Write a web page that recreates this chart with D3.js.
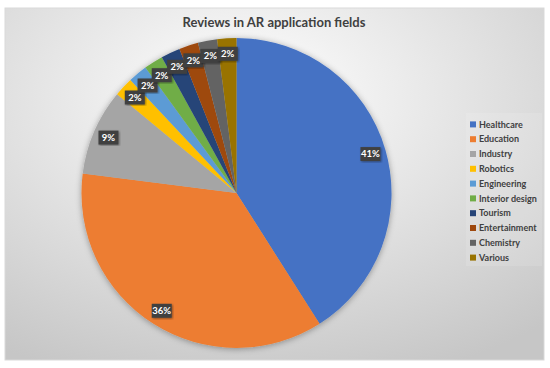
<!DOCTYPE html>
<html>
<head>
<meta charset="utf-8">
<script src="https://cdn.jsdelivr.net/npm/d3@7"></script>
<style>
  body { margin: 0; background: #fff; }
  svg { display: block; font-family: Lato, "Open Sans", "Liberation Sans", sans-serif; }
</style>
</head>
<body>
<svg id="chart" width="550" height="368"></svg>
<script>
// data
var fields = ["Healthcare", "Education", "Industry", "Robotics", "Engineering",
              "Interior design", "Tourism", "Entertainment", "Chemistry", "Various"];
var shares = [41, 36, 9, 2, 2, 2, 2, 2, 2, 2];
var colours = ["#4472C4", "#ED7D31", "#A5A5A5", "#FFC000", "#5B9BD5",
               "#70AD47", "#264478", "#9E480E", "#636363", "#997300"];

var svg = d3.select("#chart");

var defs = svg.append("defs");
var bg = defs.append("radialGradient").attr("id", "bg")
    .attr("cx", "45%").attr("cy", "25%").attr("r", "85%");
bg.append("stop").attr("offset", "0%").attr("stop-color", "#ffffff");
bg.append("stop").attr("offset", "100%").attr("stop-color", "#c6c6c6");

var sh = defs.append("filter").attr("id", "shadow")
    .attr("x", "-20%").attr("y", "-20%").attr("width", "140%").attr("height", "140%");
sh.append("feDropShadow").attr("dx", 0).attr("dy", 1).attr("stdDeviation", 3)
    .attr("flood-color", "#000").attr("flood-opacity", 0.35);

var lsh = defs.append("filter").attr("id", "lshadow");
lsh.append("feDropShadow").attr("dx", 1).attr("dy", 1).attr("stdDeviation", 0.8)
    .attr("flood-color", "#000").attr("flood-opacity", 0.4);

// panel
svg.append("rect")
    .attr("x", 5).attr("y", 8).attr("width", 539).attr("height", 352)
    .attr("fill", "url(#bg)")
    .attr("stroke", "#d9d9d9").attr("stroke-width", 1);

svg.append("text")
    .attr("x", 274).attr("y", 27)
    .attr("text-anchor", "middle")
    .attr("font-size", 13).attr("font-weight", "bold")
    .attr("fill", "#404040")
    .text("Reviews in AR application fields");

var cx = 236.5, cy = 193, R = 155;

var pie = d3.pie().sort(null).value(function(d){ return d; });
var arcs = pie(shares);
var arc = d3.arc().innerRadius(0).outerRadius(R);
var labelArc = d3.arc().innerRadius(R * 0.9).outerRadius(R * 0.9);

var g = svg.append("g").attr("transform", "translate(" + cx + "," + cy + ")");

g.append("g").attr("filter", "url(#shadow)")
  .selectAll("path")
    .data(arcs)
  .enter().append("path")
    .attr("d", arc)
    .attr("fill", function(d, i){ return colours[i]; });

var labels = g.selectAll("g.lab")
    .data(arcs)
  .enter().append("g")
    .attr("class", "lab")
    .attr("transform", function(d){ return "translate(" + labelArc.centroid(d) + ")"; });

labels.append("rect")
    .attr("x", -10).attr("y", -7).attr("width", 20).attr("height", 14)
    .attr("fill", "#404040")
    .attr("filter", "url(#lshadow)");

labels.append("text")
    .attr("text-anchor", "middle").attr("dy", "0.35em")
    .attr("font-size", 9.5).attr("font-weight", "bold")
    .attr("fill", "#fff")
    .text(function(d){ return d.data + "%"; });

// legend
var legend = svg.append("g").attr("transform", "translate(466,113)");
legend.append("rect")
    .attr("x", 0).attr("y", 0).attr("width", 76).attr("height", 153)
    .attr("fill", "#fff").attr("opacity", 0.12);

var ly = d3.scaleBand().domain(fields).range([4, 152]);

var item = legend.selectAll("g.item")
    .data(fields)
  .enter().append("g")
    .attr("class", "item")
    .attr("transform", function(d){ return "translate(0," + (ly(d) + ly.bandwidth() / 2) + ")"; });

item.append("rect")
    .attr("x", 4).attr("y", -3).attr("width", 6).attr("height", 6)
    .attr("fill", function(d, i){ return colours[i]; });

item.append("text")
    .attr("x", 13).attr("dy", "0.35em")
    .attr("font-size", 9).attr("font-weight", "bold")
    .attr("fill", "#404040")
    .text(function(d){ return d; });
</script>
</body>
</html>
